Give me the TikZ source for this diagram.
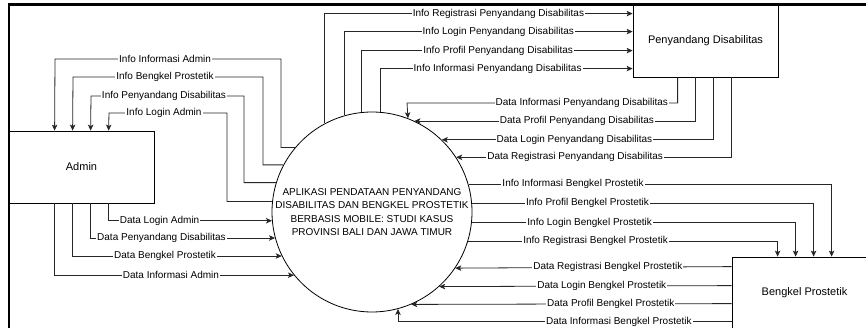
\documentclass[tikz,border=0pt]{standalone}
\usepackage{fontspec}
\setmainfont{Liberation Sans}
\usetikzlibrary{calc,arrows.meta}
\tikzset{
  flow/.style={draw=black!85, line width=0.8pt, -{Stealth[length=6pt,width=5.5pt,inset=1.5pt]}},
  lbl/.style={fill=white, text=black, font=\fontsize{10}{12}\selectfont, inner sep=1pt},
  ent/.style={draw=black, line width=0.8pt, fill=white, minimum width=145pt, minimum height=72pt, font=\fontsize{11}{13}\selectfont},
  proc/.style={circle, draw=black, line width=0.8pt, fill=white, minimum size=200pt, inner sep=0pt, align=center, font=\fontsize{10}{13.3}\selectfont},
  borderline/.style={draw=black, line width=2.4pt}
}
\begin{document}
\begin{tikzpicture}[x=1pt,y=-1pt]
\fill[white] (0,0) rectangle (866,328);
\useasboundingbox (0,0) rectangle (866,328);

\node[ent] (a) at (81.5,167) {Admin};
\node[ent] (p) at (705.5,41) {Penyandang Disabilitas};
\node[ent] (b) at (804.5,293) {Bengkel Prostetik};
\node[proc] (c) at (372,212) {APLIKASI PENDATAAN PENYANDANG\\DISABILITAS DAN BENGKEL PROSTETIK\\BERBASIS MOBILE: STUDI KASUS\\PROVINSI BALI DAN JAWA TIMUR};

% Circle -> Admin
\draw[flow] (c.140.21) -| (281,59) -- node[lbl,pos=0.513]{Info Informasi Admin} (55,59) -- ($(a.north west)+(46,0)$);
\draw[flow] (c.152.61) -| (263,77) -- node[lbl,pos=0.516]{Info Bengkel Prostetik} (73,77) -- ($(a.north west)+(64,0)$);
\draw[flow] (c.163.74) -| (244,96) -- node[lbl,pos=0.523]{Info Penyandang Disabilitas} (91,96) -- ($(a.north west)+(82,0)$);
\draw[flow] (c.174.84) -| (227,113) -- node[lbl,pos=0.534]{Info Login Admin} (109,113) -- ($(a.north west)+(100,0)$);

% Admin -> Circle
\draw[flow] ($(a.south west)+(100,0)$) |- node[lbl,pos=0.656]{Data Login Admin} (c.185.16);
\draw[flow] ($(a.south west)+(82,0)$) |- node[lbl,pos=0.692]{Data Penyandang Disabilitas} (c.195.66);
\draw[flow] ($(a.south west)+(64,0)$) |- node[lbl,pos=0.721]{Data Bengkel Prostetik} (c.206.74);
\draw[flow] ($(a.south west)+(46,0)$) |- node[lbl,pos=0.743]{Data Informasi Admin} (c.219.79);

% Circle -> Penyandang Disabilitas
\draw[flow] (c.118.03) |- node[lbl,pos=0.782]{Info Registrasi Penyandang Disabilitas} ($(p.north west)+(0,9)$);
\draw[flow] (c.106.86) |- node[lbl,pos=0.767]{Info Login Penyandang Disabilitas} ($(p.north west)+(0,27)$);
\draw[flow] (c.96.32) |- node[lbl,pos=0.752]{Info Profil Penyandang Disabilitas} ($(p.north west)+(0,46)$);
\draw[flow] (c.85.99) |- node[lbl,pos=0.732]{Info Informasi Penyandang Disabilitas} ($(p.north west)+(0,64)$);

% Penyandang Disabilitas -> Circle
\draw[flow] ($(p.south west)+(45,0)$) |- node[lbl,pos=0.677]{Data Informasi Penyandang Disabilitas} (407,103) -- (c.69.51);
\draw[flow] ($(p.south west)+(63,0)$) |- node[lbl,pos=0.711]{Data Profil Penyandang Disabilitas} (c.65.51);
\draw[flow] ($(p.south west)+(81,0)$) |- node[lbl,pos=0.756]{Data Login Penyandang Disabilitas} (c.46.89);
\draw[flow] ($(p.south west)+(99,0)$) |- node[lbl,pos=0.784]{Data Registrasi Penyandang Disabilitas} (c.33.37);

% Circle -> Bengkel Prostetik
\draw[flow] (c.16.26) -| node[lbl,pos=0.144]{Info Informasi Bengkel Prostetik} ($(b.north west)+(100,0)$);
\draw[flow] (c.5.16) -| node[lbl,pos=0.169]{Info Profil Bengkel Prostetik} ($(b.north west)+(82,0)$);
\draw[flow] (c.354.84) -| node[lbl,pos=0.182]{Info Login Bengkel Prostetik} ($(b.north west)+(64,0)$);
\draw[flow] (c.343.74) -| node[lbl,pos=0.206]{Info Registrasi Bengkel Prostetik} ($(b.north west)+(46,0)$);

% Bengkel Prostetik -> Circle
\draw[flow] ($(b.north west)+(0,10)$) -- node[lbl,pos=0.448]{Data Registrasi Bengkel Prostetik} (c.326.63);
\draw[flow] ($(b.north west)+(0,29)$) -- node[lbl,pos=0.444]{Data Login Bengkel Prostetik} (c.312.27);
\draw[flow] ($(b.north west)+(0,47)$) -- node[lbl,pos=0.377]{Data Profil Bengkel Prostetik} (c.293.07);
\draw[flow] ($(b.north west)+(0,65)$) -| node[lbl,pos=0.169]{Data Informasi Bengkel Prostetik} (c.285.07);

% outer frame (top and left edges)
\draw[borderline] (9,328) -- (9,4.5) -- (866,4.5);
\end{tikzpicture}
\end{document}
